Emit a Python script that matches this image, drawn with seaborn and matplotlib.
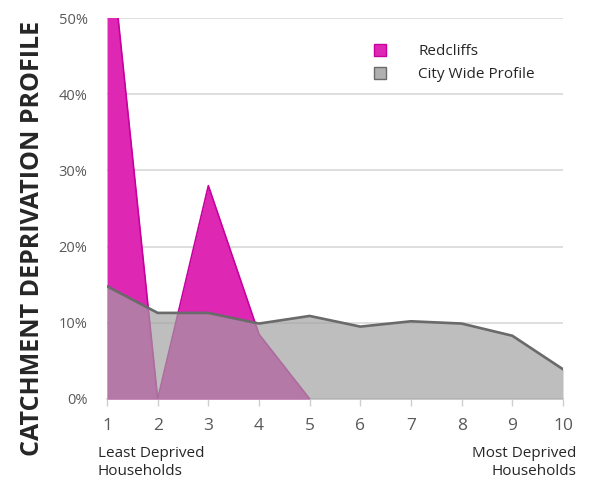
import matplotlib
matplotlib.use('Agg')
import matplotlib.pyplot as plt
import seaborn as sns
import pandas as pd
from matplotlib.lines import Line2D
from matplotlib.ticker import PercentFormatter

# данные
deciles = [1, 2, 3, 4, 5, 6, 7, 8, 9, 10]
redcliffs = [0.64, 0.0, 0.28, 0.085, 0.0, 0.0, 0.0, 0.0, 0.0, 0.0]
city_wide = [0.148, 0.113, 0.113, 0.099, 0.109, 0.095, 0.102, 0.099, 0.083, 0.039]

df = pd.DataFrame({'decile': deciles, 'Redcliffs': redcliffs, 'City Wide Profile': city_wide})

sns.set_style('white')
plt.rcParams['font.family'] = ['Open Sans', 'DejaVu Sans']

pink = '#DE28B4'
pink_edge = '#C8009E'
grey = '#A0A0A0'
grey_edge = '#6A6A6A'

fig = plt.figure(figsize=(5.89, 4.88), dpi=100)
ax = fig.add_axes([0.1817, 0.1824, 0.7742, 0.7806])

# розовая область снизу, серая полупрозрачная сверху
ax.fill_between(df['decile'], df['Redcliffs'], color=pink, lw=0, zorder=2)
# контур розовой области только там, где она есть (до 5-го дециля)
sns.lineplot(data=df[df['decile'] <= 5], x='decile', y='Redcliffs', color=pink_edge, lw=1.2, ax=ax, zorder=3)
ax.fill_between(df['decile'], df['City Wide Profile'], color=grey, alpha=0.68, lw=0, zorder=4)
sns.lineplot(data=df, x='decile', y='City Wide Profile', color=grey_edge, lw=1.9, ax=ax, zorder=5)

ax.set_xlim(1, 10)
ax.set_ylim(0, 0.5)
ax.set_xticks(deciles)
ax.set_yticks([0, 0.1, 0.2, 0.3, 0.4, 0.5])
ax.yaxis.set_major_formatter(PercentFormatter(1.0, decimals=0))
ax.grid(axis='y', color='#D9D9D9', lw=1.2, zorder=0)
ax.set_axisbelow(True)

for s in ['top', 'right', 'left']:
    ax.spines[s].set_visible(False)
ax.spines['bottom'].set_color('#D9D9D9')
ax.spines['bottom'].set_linewidth(1.2)
ax.spines['bottom'].set_zorder(1)

ax.tick_params(axis='x', colors='#D0D0D0', labelcolor='#595959', labelsize=12.5,
               length=5, width=1, direction='out', pad=9, bottom=True)
ax.tick_params(axis='y', labelcolor='#595959', labelsize=10.5, length=0, pad=14)
ax.set_xlabel('')
ax.set_ylabel('')

fig.text(0.055, 0.512, 'CATCHMENT DEPRIVATION PROFILE', rotation=90, ha='center', va='center',
         fontsize=18, fontweight='bold', color='#262626')
fig.text(0.166, 0.018, 'Least Deprived\nHouseholds', ha='left', va='bottom', fontsize=11,
         color='#262626', linespacing=1.3)
fig.text(0.979, 0.018, 'Most Deprived\nHouseholds', ha='right', va='bottom', fontsize=11,
         color='#262626', linespacing=1.3, multialignment='right')

handles = [
    Line2D([], [], marker='s', ls='', markersize=8, markerfacecolor=pink, markeredgecolor=pink_edge),
    Line2D([], [], marker='s', ls='', markersize=8, markerfacecolor='#B0B0B0', markeredgecolor=grey_edge),
]
ax.legend(handles, ['Redcliffs', 'City Wide Profile'], loc='upper left', bbox_to_anchor=(0.535, 0.968),
          frameon=False, fontsize=11, handletextpad=1.5, labelspacing=0.55, labelcolor='#262626')

fig.savefig('out.png', dpi=100)
